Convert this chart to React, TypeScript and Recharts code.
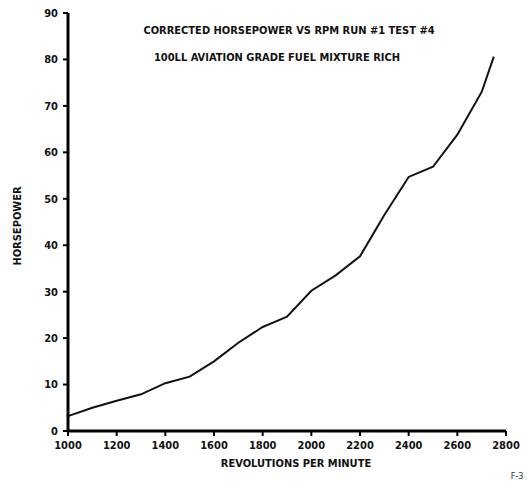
import React from 'react';
import { LineChart, Line, XAxis, YAxis } from 'recharts';

const rpm = [1000, 1100, 1200, 1300, 1400, 1500, 1600, 1700, 1800, 1850, 1900, 2000, 2100, 2200, 2300, 2400, 2500, 2600, 2700, 2750];
const horsepower = [3.2, 5.0, 6.5, 7.9, 10.3, 11.7, 15.0, 19.0, 22.4, 23.5, 24.6, 30.2, 33.5, 37.6, 46.5, 54.7, 56.9, 63.8, 73.0, 80.6];
const xTicks = [1000, 1200, 1400, 1600, 1800, 2000, 2200, 2400, 2600, 2800];
const yTicks = [0, 10, 20, 30, 40, 50, 60, 70, 80, 90];
const title1 = 'CORRECTED HORSEPOWER VS RPM RUN #1 TEST #4';
const title2 = '100LL AVIATION GRADE FUEL MIXTURE RICH';

const data = rpm.map((r, i) => ({ rpm: r, hp: horsepower[i] }));

const FONT = '"DejaVu Sans Condensed", "Liberation Sans Narrow", "DejaVu Sans", sans-serif';

export default function App() {
  const tickStyle = { fontFamily: FONT, fontSize: 11, fontWeight: 700, fill: '#111' };
  const labelStyle = { fontFamily: FONT, fontSize: 11, fontWeight: 700 };
  return (
    <div style={{ position: 'absolute', left: 0, top: 0, width: 527, height: 483, background: '#fff' }}>
      <LineChart width={527} height={483} data={data} margin={{ top: 13, right: 21, bottom: 0, left: 0 }}>
        <XAxis
          dataKey="rpm"
          type="number"
          domain={[1000, 2800]}
          ticks={xTicks}
          interval={0}
          height={52}
          axisLine={{ stroke: '#000', strokeWidth: 3 }}
          tickLine={{ stroke: '#000', strokeWidth: 2 }}
          tickSize={5}
          tickMargin={5}
          tick={tickStyle}
        />
        <YAxis
          type="number"
          domain={[0, 90]}
          ticks={yTicks}
          interval={0}
          width={68}
          axisLine={{ stroke: '#000', strokeWidth: 3 }}
          tickLine={{ stroke: '#000', strokeWidth: 2 }}
          tickSize={5}
          tickMargin={5}
          tick={tickStyle}
        />
        <Line
          type="linear"
          dataKey="hp"
          stroke="#111"
          strokeWidth={2}
          dot={false}
          isAnimationActive={false}
        />
        <text x={289} y={34} textAnchor="middle" style={labelStyle} fill="#111">{title1}</text>
        <text x={277} y={61} textAnchor="middle" style={labelStyle} fill="#111">{title2}</text>
        <text x={296} y={467} textAnchor="middle" style={labelStyle} fill="#111">REVOLUTIONS PER MINUTE</text>
        <text x={21} y={226} textAnchor="middle" transform="rotate(-90 21 226)" style={labelStyle} fill="#111">HORSEPOWER</text>
        <text x={517} y={479} textAnchor="middle" style={{ fontFamily: FONT, fontSize: 9 }} fill="#333">F-3</text>
      </LineChart>
    </div>
  );
}
